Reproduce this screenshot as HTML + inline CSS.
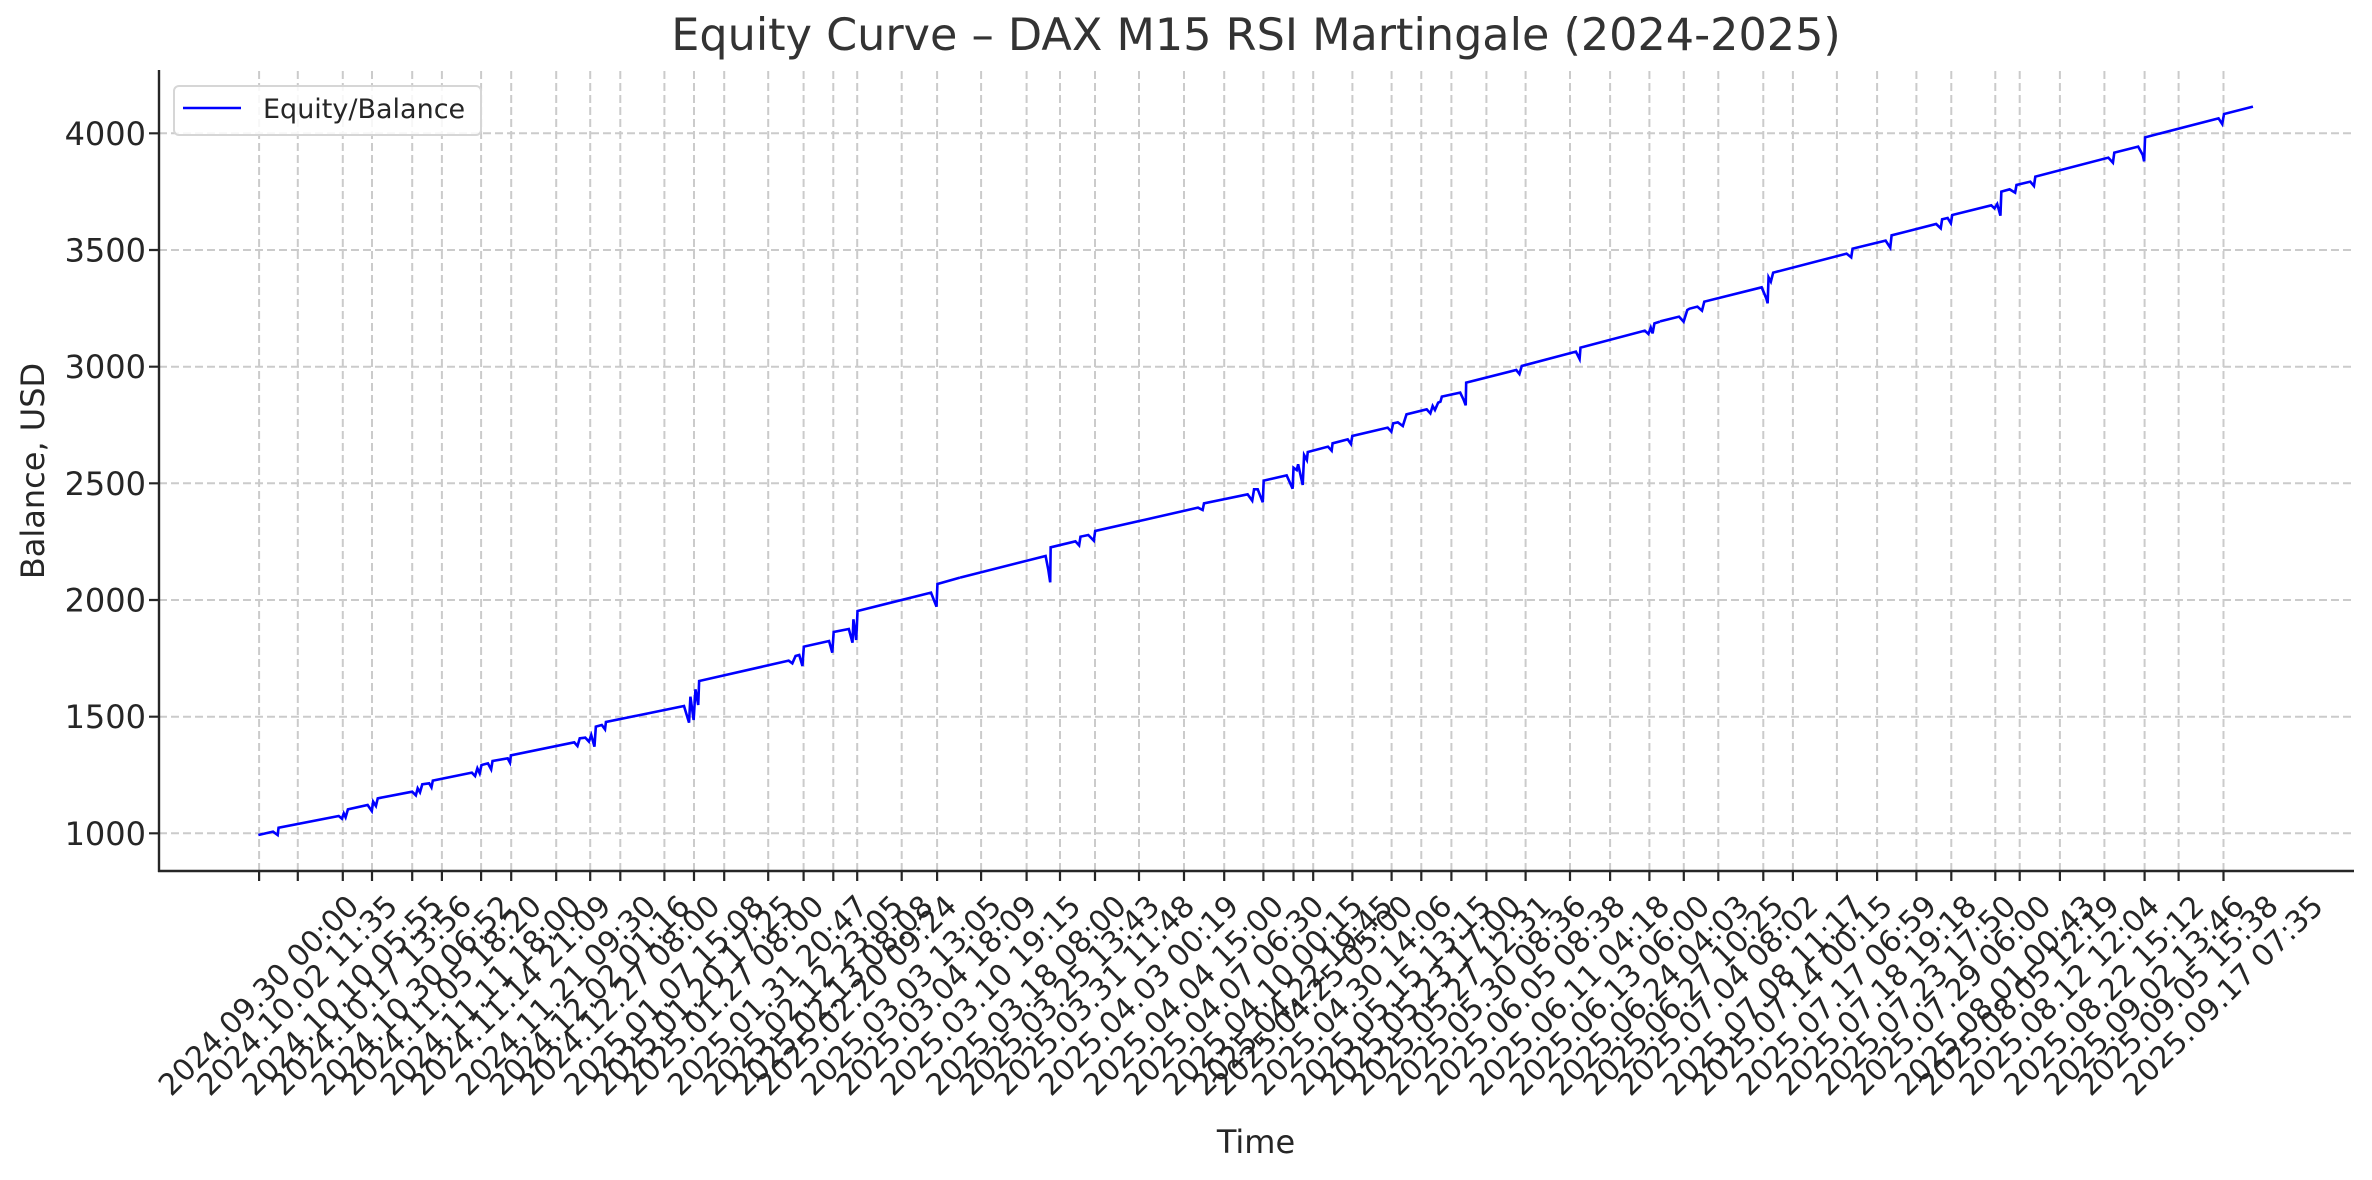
<!DOCTYPE html>
<html><head><meta charset="utf-8"><style>
html,body{margin:0;padding:0;background:#fff;}
svg{display:block;font-family:"DejaVu Sans","Liberation Sans",sans-serif;}
</style></head><body>
<svg width="2372" height="1180" viewBox="0 0 2372 1180" xmlns="http://www.w3.org/2000/svg">
<rect width="2372" height="1180" fill="#fff"/>
<text x="1256" y="50" font-size="44.5" fill="#333" text-anchor="middle">Equity Curve – DAX M15 RSI Martingale (2024-2025)</text>
<g stroke="#cbcbcb" stroke-width="2" stroke-dasharray="8,4" fill="none">
<line x1="159" y1="833.3" x2="2353" y2="833.3"/>
<line x1="159" y1="716.7" x2="2353" y2="716.7"/>
<line x1="159" y1="600" x2="2353" y2="600"/>
<line x1="159" y1="483.3" x2="2353" y2="483.3"/>
<line x1="159" y1="366.7" x2="2353" y2="366.7"/>
<line x1="159" y1="250" x2="2353" y2="250"/>
<line x1="159" y1="133.3" x2="2353" y2="133.3"/>
</g>
<g stroke="#cbcbcb" stroke-width="2" stroke-dasharray="8,4">
<path d="M259.1 71V871M297.8 71V871M342.8 71V871M372 71V871M412.2 71V871M441.9 71V871M481.1 71V871M511.2 71V871M556.2 71V871M590.2 71V871M620.3 71V871M664.4 71V871M694 71V871M724.2 71V871M768.2 71V871M803.6 71V871M833.3 71V871M857.2 71V871M901.7 71V871M937.1 71V871M981.1 71V871M1026.6 71V871M1060 71V871M1095 71V871M1139 71V871M1184 71V871M1224.2 71V871M1263.4 71V871M1293.5 71V871M1313.2 71V871M1352.4 71V871M1391.6 71V871M1421.3 71V871M1451.4 71V871M1486.4 71V871M1525.6 71V871M1570 71V871M1610.1 71V871M1649.4 71V871M1683.8 71V871M1718.3 71V871M1763.3 71V871M1792.9 71V871M1836.9 71V871M1877.1 71V871M1916.4 71V871M1951.3 71V871M1995.3 71V871M2019.7 71V871M2059.9 71V871M2104.4 71V871M2144.6 71V871M2178.6 71V871M2223.5 71V871"/>
</g>
<g fill="none" stroke="#0000ff" stroke-width="2.6" stroke-linejoin="miter">
<g transform="translate(240,480) scale(0.45914,0.33333)">
<polyline vector-effect="non-scaling-stroke" points="40,1065 72,1055 82,1065 84,1043 215,1008 222,1016 226,1000 230,1012 235,988 278,975 287,993 290,965 296,978 300,955 375,935 383,946 387,925 392,937 397,913 412,910 417,922 420,902 505,878 512,888 517,865 522,880 526,855 540,850 547,868 550,843 583,835 588,848 590,826 728,787 735,798 740,775 752,773 760,785 765,765 772,800 775,740 788,735 795,748 797,726 967,678 978,728 981,650 988,720 992,628 998,675 1000,603 1195,542 1203,550 1210,528 1218,525 1225,558 1228,500 1283,483 1290,518 1293,456 1326,447 1334,488 1336,418 1342,480 1345,393 1505,338 1517,380 1519,312 1568,293"/>
</g>
<g transform="translate(940,240) scale(0.45914,0.33333)">
<polyline vector-effect="non-scaling-stroke" points="43.6,1012.8 230,948 236,990 240,1027 241,922 295,904 303,916 306,890 323,885 335,902 338,873 562,803 572,810 575,790 670,763 680,782 684,748 692,748 703,787 705,722 755,706 768,746 770,683 777,690 780,673 790,735 793,645 799,660 801,636 845,620 853,632 855,610 888,598 895,612 898,588 975,563 983,575 987,550 997,547 1008,558 1016,523 1060,508 1068,520 1073,498 1078,510 1085,488 1090,485 1093,470 1133,458 1140,478 1145,496 1146,428 1255,390 1262,402 1267,378 1385,335 1393,357 1395,323 1535,272 1543,282 1548,263 1552,280 1556,250 1568,245"/>
</g>
<g transform="translate(1640,80) scale(0.45914,0.33333)">
<polyline vector-effect="non-scaling-stroke" points="43.6,724 85,710 95,725 103,690 108,686 125,680 135,692 140,665 265,622 275,655 278,670 280,592 285,605 290,578 450,521 460,532 463,506 535,482 545,503 548,466 645,432 655,445 658,418 670,414 677,430 680,405 765,376 772,385 778,372 785,407 787,335 805,328 817,338 820,315 850,305 858,318 861,290 1020,233 1030,248 1033,218 1085,200 1095,225 1098,244 1100,172 1260,115 1268,132 1272,102 1335,80"/>
</g>
</g>
<g stroke="#262626" stroke-width="2.4">
<line x1="159" y1="70" x2="159" y2="872"/>
<line x1="158" y1="871" x2="2354" y2="871"/>
</g>
<g stroke="#262626" stroke-width="2.2">
<path d="M149 833.3H159M149 716.7H159M149 600H159M149 483.3H159M149 366.7H159M149 250H159M149 133.3H159"/>
</g>
<g font-size="32" fill="#262626" text-anchor="end">
<text x="146" y="845">1000</text>
<text x="146" y="728">1500</text>
<text x="146" y="611.5">2000</text>
<text x="146" y="495">2500</text>
<text x="146" y="378">3000</text>
<text x="146" y="261.5">3500</text>
<text x="146" y="145">4000</text>
</g>
<text transform="translate(44,471) rotate(-90)" font-size="32" fill="#262626" text-anchor="middle">Balance, USD</text>
<text x="1256" y="1153" font-size="32" fill="#262626" text-anchor="middle">Time</text>
<g stroke="#262626" stroke-width="2.2">
<path d="M259.1 871v10M297.8 871v10M342.8 871v10M372 871v10M412.2 871v10M441.9 871v10M481.1 871v10M511.2 871v10M556.2 871v10M590.2 871v10M620.3 871v10M664.4 871v10M694 871v10M724.2 871v10M768.2 871v10M803.6 871v10M833.3 871v10M857.2 871v10M901.7 871v10M937.1 871v10M981.1 871v10M1026.6 871v10M1060 871v10M1095 871v10M1139 871v10M1184 871v10M1224.2 871v10M1263.4 871v10M1293.5 871v10M1313.2 871v10M1352.4 871v10M1391.6 871v10M1421.3 871v10M1451.4 871v10M1486.4 871v10M1525.6 871v10M1570 871v10M1610.1 871v10M1649.4 871v10M1683.8 871v10M1718.3 871v10M1763.3 871v10M1792.9 871v10M1836.9 871v10M1877.1 871v10M1916.4 871v10M1951.3 871v10M1995.3 871v10M2019.7 871v10M2059.9 871v10M2104.4 871v10M2144.6 871v10M2178.6 871v10M2223.5 871v10"/>
</g>
<g font-size="30" fill="#262626" text-anchor="middle" dominant-baseline="central">
<text transform="translate(259.1,996) rotate(-45)">2024.09.30 00:00</text>
<text transform="translate(297.8,996) rotate(-45)">2024.10.02 11:35</text>
<text transform="translate(342.8,996) rotate(-45)">2024.10.10 05:55</text>
<text transform="translate(372,996) rotate(-45)">2024.10.17 13:56</text>
<text transform="translate(412.2,996) rotate(-45)">2024.10.30 06:52</text>
<text transform="translate(441.9,996) rotate(-45)">2024.11.05 18:20</text>
<text transform="translate(481.1,996) rotate(-45)">2024.11.11 18:00</text>
<text transform="translate(511.2,996) rotate(-45)">2024.11.14 21:09</text>
<text transform="translate(556.2,996) rotate(-45)">2024.11.21 09:30</text>
<text transform="translate(590.2,996) rotate(-45)">2024.12.02 01:16</text>
<text transform="translate(620.3,996) rotate(-45)">2024.12.27 08:00</text>
<text transform="translate(664.4,996) rotate(-45)">2025.01.07 15:08</text>
<text transform="translate(694,996) rotate(-45)">2025.01.20 17:25</text>
<text transform="translate(724.2,996) rotate(-45)">2025.01.27 08:00</text>
<text transform="translate(768.2,996) rotate(-45)">2025.01.31 20:47</text>
<text transform="translate(803.6,996) rotate(-45)">2025.02.12 23:05</text>
<text transform="translate(833.3,996) rotate(-45)">2025.02.13 08:08</text>
<text transform="translate(857.2,996) rotate(-45)">2025.02.20 09:24</text>
<text transform="translate(901.7,996) rotate(-45)">2025.03.03 13:05</text>
<text transform="translate(937.1,996) rotate(-45)">2025.03.04 18:09</text>
<text transform="translate(981.1,996) rotate(-45)">2025.03.10 19:15</text>
<text transform="translate(1026.6,996) rotate(-45)">2025.03.18 08:00</text>
<text transform="translate(1060,996) rotate(-45)">2025.03.25 13:43</text>
<text transform="translate(1095,996) rotate(-45)">2025.03.31 11:48</text>
<text transform="translate(1139,996) rotate(-45)">2025.04.03 00:19</text>
<text transform="translate(1184,996) rotate(-45)">2025.04.04 15:00</text>
<text transform="translate(1224.2,996) rotate(-45)">2025.04.07 06:30</text>
<text transform="translate(1263.4,996) rotate(-45)">2025.04.10 00:15</text>
<text transform="translate(1293.5,996) rotate(-45)">2025.04.22 19:45</text>
<text transform="translate(1313.2,996) rotate(-45)">2025.04.25 05:00</text>
<text transform="translate(1352.4,996) rotate(-45)">2025.04.30 14:06</text>
<text transform="translate(1391.6,996) rotate(-45)">2025.05.15 13:15</text>
<text transform="translate(1421.3,996) rotate(-45)">2025.05.23 17:00</text>
<text transform="translate(1451.4,996) rotate(-45)">2025.05.27 12:31</text>
<text transform="translate(1486.4,996) rotate(-45)">2025.05.30 08:36</text>
<text transform="translate(1525.6,996) rotate(-45)">2025.06.05 08:38</text>
<text transform="translate(1570,996) rotate(-45)">2025.06.11 04:18</text>
<text transform="translate(1610.1,996) rotate(-45)">2025.06.13 06:00</text>
<text transform="translate(1649.4,996) rotate(-45)">2025.06.24 04:03</text>
<text transform="translate(1683.8,996) rotate(-45)">2025.06.27 10:25</text>
<text transform="translate(1718.3,996) rotate(-45)">2025.07.04 08:02</text>
<text transform="translate(1763.3,996) rotate(-45)">2025.07.08 11:17</text>
<text transform="translate(1792.9,996) rotate(-45)">2025.07.14 00:15</text>
<text transform="translate(1836.9,996) rotate(-45)">2025.07.17 06:59</text>
<text transform="translate(1877.1,996) rotate(-45)">2025.07.18 19:18</text>
<text transform="translate(1916.4,996) rotate(-45)">2025.07.23 17:50</text>
<text transform="translate(1951.3,996) rotate(-45)">2025.07.29 06:00</text>
<text transform="translate(1995.3,996) rotate(-45)">2025.08.01 00:43</text>
<text transform="translate(2019.7,996) rotate(-45)">2025.08.05 12:19</text>
<text transform="translate(2059.9,996) rotate(-45)">2025.08.12 12:04</text>
<text transform="translate(2104.4,996) rotate(-45)">2025.08.22 15:12</text>
<text transform="translate(2144.6,996) rotate(-45)">2025.09.02 13:46</text>
<text transform="translate(2178.6,996) rotate(-45)">2025.09.05 15:38</text>
<text transform="translate(2223.5,996) rotate(-45)">2025.09.17 07:35</text>
</g>
<rect x="174" y="86" width="307" height="49" rx="5" ry="5" fill="#fff" fill-opacity="0.85" stroke="#d6d6d6" stroke-width="2"/>
<line x1="183" y1="108" x2="241" y2="108" stroke="#0000ff" stroke-width="2.6"/>
<text x="263" y="118" font-size="27" fill="#262626">Equity/Balance</text>
</svg>
</body></html>
